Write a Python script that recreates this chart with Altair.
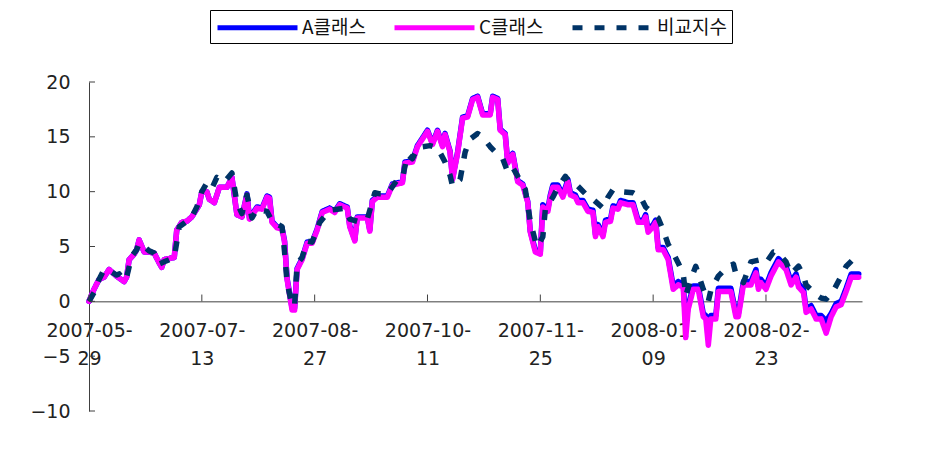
import altair as alt
import pandas as pd

series_names = ["A클래스", "C클래스", "비교지수"]
series_colors = ["#0000FF", "#FF00FF", "#003366"]

fund_days = [0, 2, 4, 6, 8, 11, 14, 15, 16, 18,
             19, 20, 22, 24, 26, 28, 29, 30, 34, 35,
             37, 39, 41, 44, 45, 47, 48, 50, 52, 55,
             57, 59, 61, 63, 64, 67, 69, 71, 72, 73,
             75, 77, 78, 79, 81, 82, 83, 85, 87, 89,
             91, 93, 96, 98, 100, 103, 104, 106, 107, 111,
             112, 113, 115, 119, 121, 125, 126, 129, 131, 135,
             137, 139, 141, 142, 144, 145, 147, 149, 151, 153,
             155, 157, 160, 161, 163, 164, 166, 167, 169, 171,
             173, 175, 176, 178, 180, 181, 183, 184, 185, 187,
             189, 191, 192, 194, 195, 197, 199, 201, 202, 203,
             205, 206, 208, 209, 211, 212, 215, 217, 219, 221,
             222, 223, 225, 226, 227, 229, 231,
             233, 235, 237, 238, 239, 241, 243, 245, 246, 247,
             248, 250, 251, 256, 258, 259, 261, 264, 266, 267,
             268, 270, 272, 275, 278, 280, 282, 283, 285, 286,
             288, 290, 292, 294, 296, 298, 300, 302, 304, 307]

a_class = [0, 1.1, 2.0, 2.2, 2.9, 2.3, 1.8, 2.2, 3.8, 4.3,
           4.7, 5.6, 4.5, 4.5, 4.4, 3.5, 3.1, 3.8, 4.0, 6.5,
           7.2, 7.3, 7.7, 8.8, 10.0, 10.0, 9.3, 9.0, 10.4, 10.4,
           11.3, 7.9, 7.7, 9.8, 7.6, 8.6, 8.5, 9.6, 9.5, 7.3,
           6.8, 6.7, 5.5, 2.1, -0.6, -0.6, 3.0, 3.9, 5.4, 5.4,
           6.6, 8.2, 8.5, 8.2, 8.9, 8.6, 6.9, 5.6, 7.7, 7.7,
           6.5, 9.2, 9.6, 9.6, 10.7, 10.9, 12.7, 12.8, 14.2, 15.6,
           14.4, 15.6, 14.2, 15.3, 13.7, 11.2, 13.6, 16.8, 16.9, 18.5,
           18.7, 17.1, 17.1, 18.7, 18.5, 15.7, 15.3, 12.7, 13.5, 11.0,
           10.7, 9.1, 6.4, 4.7, 4.5, 8.8, 8.4, 9.7, 10.6, 10.6,
           9.7, 11.1, 9.9, 9.7, 9.2, 9.2, 8.4, 8.3, 6.1, 7.0,
           6.1, 7.4, 7.5, 8.7, 8.6, 9.2, 9.0, 9.0, 7.4, 7.4,
           7.9, 6.5, 7.0, 7.4, 4.9, 4.9, 4.0,
           1.4, 1.8, 1.6, -2.0, -0.4, 1.4, 1.4, -1.1, -1.3, -2.0,
           -1.3, -1.3, 1.2, 1.2, -1.1, -1.1, 1.8, 1.8, 2.9, 1.4,
           2.0, 1.4, 2.6, 3.9, 3.2, 1.8, 2.5, 1.6, 1.1, -0.7,
           -0.4, -1.3, -1.3, -1.8, -1.1, -0.2, 0.0, 1.2, 2.5, 2.5]

c_class = [0, 1.1, 2.0, 2.2, 2.9, 2.3, 1.8, 2.2, 3.8, 4.3,
           4.7, 5.6, 4.5, 4.5, 4.4, 3.5, 3.1, 3.8, 4.0, 6.5,
           7.2, 7.3, 7.7, 8.8, 10.0, 10.0, 9.3, 9.0, 10.4, 10.4,
           11.3, 7.9, 7.7, 9.7, 7.5, 8.5, 8.4, 9.5, 9.4, 7.2,
           6.7, 6.6, 5.4, 2.0, -0.8, -0.8, 2.9, 3.8, 5.3, 5.3,
           6.5, 8.1, 8.4, 8.1, 8.8, 8.5, 6.8, 5.5, 7.6, 7.6,
           6.4, 9.1, 9.5, 9.5, 10.6, 10.8, 12.6, 12.7, 14.1, 15.5,
           14.3, 15.5, 14.1, 15.2, 13.6, 11.1, 13.5, 16.7, 16.8, 18.4,
           18.6, 17.0, 17.0, 18.6, 18.4, 15.6, 15.2, 12.6, 13.4, 10.9,
           10.6, 9.0, 6.3, 4.5, 4.3, 8.6, 8.2, 9.5, 10.4, 10.4,
           9.5, 10.9, 9.7, 9.5, 9.0, 9.0, 8.2, 8.1, 5.9, 6.8,
           5.9, 7.2, 7.3, 8.5, 8.4, 9.0, 8.8, 8.8, 7.2, 7.2,
           7.7, 6.3, 6.8, 7.2, 4.7, 4.7, 3.8,
           1.1, 1.5, 1.3, -3.3, -0.7, 1.1, 1.1, -1.4, -1.6, -4.0,
           -1.6, -1.6, 0.9, 0.9, -1.4, -1.4, 1.5, 1.5, 2.6, 1.1,
           1.7, 1.1, 2.3, 3.6, 2.9, 1.5, 2.2, 1.3, 0.8, -1.0,
           -0.7, -1.6, -1.6, -2.9, -1.4, -0.5, -0.3, 0.9, 2.2, 2.2]

bench_days = [0, 2, 4, 6, 8, 11, 12, 14, 15, 17,
              19, 20, 22, 24, 26, 28, 30, 34, 36, 39,
              41, 43, 45, 47, 49, 51, 54, 57, 59, 61,
              63, 65, 67, 69, 71, 73, 77, 78, 79, 81,
              82, 83, 85, 87, 89, 92, 96, 99, 102, 104,
              107, 109, 111, 114, 116, 119, 123, 125, 127, 129,
              131, 133, 136, 139, 142, 144, 145, 148, 150, 152,
              155, 157, 160, 163, 165, 167, 169, 172, 174, 176,
              178, 179, 181, 182, 185, 187, 190, 192, 195, 198,
              201, 205, 207, 209, 212, 217, 220, 222, 225, 227,
              229, 231, 233, 235, 237, 238, 240, 242, 243, 245,
              247, 248, 251, 254, 257, 258, 261, 264, 268, 270,
              273, 275, 278, 280, 283, 285, 286, 290, 292, 294,
              297, 300, 302, 306, 307]

bench = [0, 0.8, 2.0, 2.9, 2.8, 2.4, 2.5, 1.9, 2.2, 4.1,
         4.7, 5.3, 5.0, 4.6, 4.4, 3.4, 3.6, 4.0, 6.8, 7.3,
         7.7, 8.6, 10.0, 10.8, 10.3, 11.3, 10.9, 11.7, 9.0, 8.0,
         9.7, 7.6, 8.4, 8.3, 8.2, 7.3, 6.8, 4.5, 1.7, -0.4,
         -0.4, 3.4, 4.0, 5.5, 5.4, 7.2, 8.3, 8.4, 8.5, 7.5,
         7.3, 7.5, 7.5, 9.9, 9.8, 9.8, 11.1, 11.2, 13.4, 13.0,
         14.0, 14.1, 14.2, 14.0, 12.7, 11.5, 10.5, 11.1, 13.6, 14.8,
         15.3, 15.0, 14.1, 13.4, 13.0, 11.8, 12.2, 11.0, 10.2, 7.3,
         5.5, 5.0, 5.9, 8.4, 9.5, 10.4, 11.4, 10.8, 10.5, 9.8,
         9.3, 8.5, 9.5, 10.2, 10.0, 9.9, 9.5, 8.6, 8.0, 7.6,
         6.5, 5.2, 4.4, 3.5, 2.5, 0.5, 2.0, 3.2, 2.5, 1.1,
         0.0, 1.0, 2.3, 3.0, 3.4, 2.5, 1.7, 3.6, 3.8, 3.5,
         4.5, 4.4, 3.6, 2.5, 3.2, 2.3, 1.5, 0.6, 0.3, 0.2,
         1.0, 2.3, 3.2, 4.1, 4.0]

x_tick_days = [0, 45, 90, 135, 180, 225, 270]
x_tick_labels = ["2007-05-29", "2007-07-13", "2007-08-27", "2007-10-11",
                 "2007-11-25", "2008-01-09", "2008-02-23"]
x_domain = [0, 308.3]
y_ticks = [-10, -5, 0, 5, 10, 15, 20]
y_domain = [-10, 20]

df = pd.concat([
    pd.DataFrame({"day": fund_days, "value": a_class, "series": series_names[0]}),
    pd.DataFrame({"day": fund_days, "value": c_class, "series": series_names[1]}),
    pd.DataFrame({"day": bench_days, "value": bench, "series": series_names[2]}),
], ignore_index=True)

label_expr = "''"
for d, lab in reversed(list(zip(x_tick_days, x_tick_labels))):
    label_expr = f"datum.value == {d} ? ['{lab[:8]}', '{lab[8:]}'] : " + label_expr

FONT = "DejaVu Sans"
AX = "#404040"

x_enc = alt.X("day:Q", scale=alt.Scale(domain=x_domain, nice=False, zero=False),
              axis=alt.Axis(values=x_tick_days, ticks=False, labelExpr=label_expr,
                            labelPadding=20, labelLineHeight=28, offset=-109.67,
                            labelFont=FONT, labelFontSize=19, labelColor="#222222",
                            labelOverlap=False, labelFlush=False, labelBound=False,
                            domainColor=AX, grid=False, title=None))
y_enc = alt.Y("value:Q", scale=alt.Scale(domain=y_domain, nice=False, zero=False),
              axis=alt.Axis(values=y_ticks, ticks=False, labelPadding=19,
                            labelFont=FONT, labelFontSize=19, labelColor="#222222",
                            domainColor=AX, grid=False, title=None))
color_enc = alt.Color("series:N", scale=alt.Scale(domain=series_names, range=series_colors),
                      legend=alt.Legend(title=None))
dash_enc = alt.StrokeDash("series:N",
                          scale=alt.Scale(domain=series_names, range=[[1, 0], [1, 0], [10, 12]]),
                          legend=alt.Legend(title=None))

base = alt.Chart(df)
layers = []
for i, name in enumerate(series_names):
    if i < 2:
        mk = base.mark_line(strokeWidth=5.5, strokeJoin="round", strokeCap="round")
    else:
        mk = base.mark_line(strokeWidth=5.5, strokeJoin="round", strokeCap="butt")
    layers.append(mk.transform_filter(alt.datum.series == name).encode(
        x=x_enc, y=y_enc, color=color_enc, strokeDash=dash_enc))

xt = alt.Chart(pd.DataFrame({"day": x_tick_days})).mark_rule(color=AX, strokeWidth=1).encode(
    x="day:Q", y=alt.datum(0), y2=alt.datum(0.62))
yt = alt.Chart(pd.DataFrame({"value": y_ticks})).mark_rule(color=AX, strokeWidth=1).encode(
    y="value:Q", x=alt.value(0), x2=alt.value(6))

chart = alt.layer(*layers, xt, yt).properties(
    width=773, height=329,
    autosize=alt.AutoSizeParams(type="none"),
    padding={"left": 81, "top": 74, "right": 60, "bottom": 30},
    background="white",
).configure_view(stroke=None).configure_legend(
    orient="none", legendX=121, legendY=-72, direction="horizontal",
    symbolType="M-1,0H7", symbolSize=400, symbolStrokeWidth=5,
    labelFont="Noto Sans CJK KR", labelFontSize=19, labelColor="#111111",
    labelOffset=62, columnPadding=18, padding=5,
    strokeColor="black", fillColor="white",
)

chart.save("out.html", embed_options={"renderer": "svg", "actions": False})
